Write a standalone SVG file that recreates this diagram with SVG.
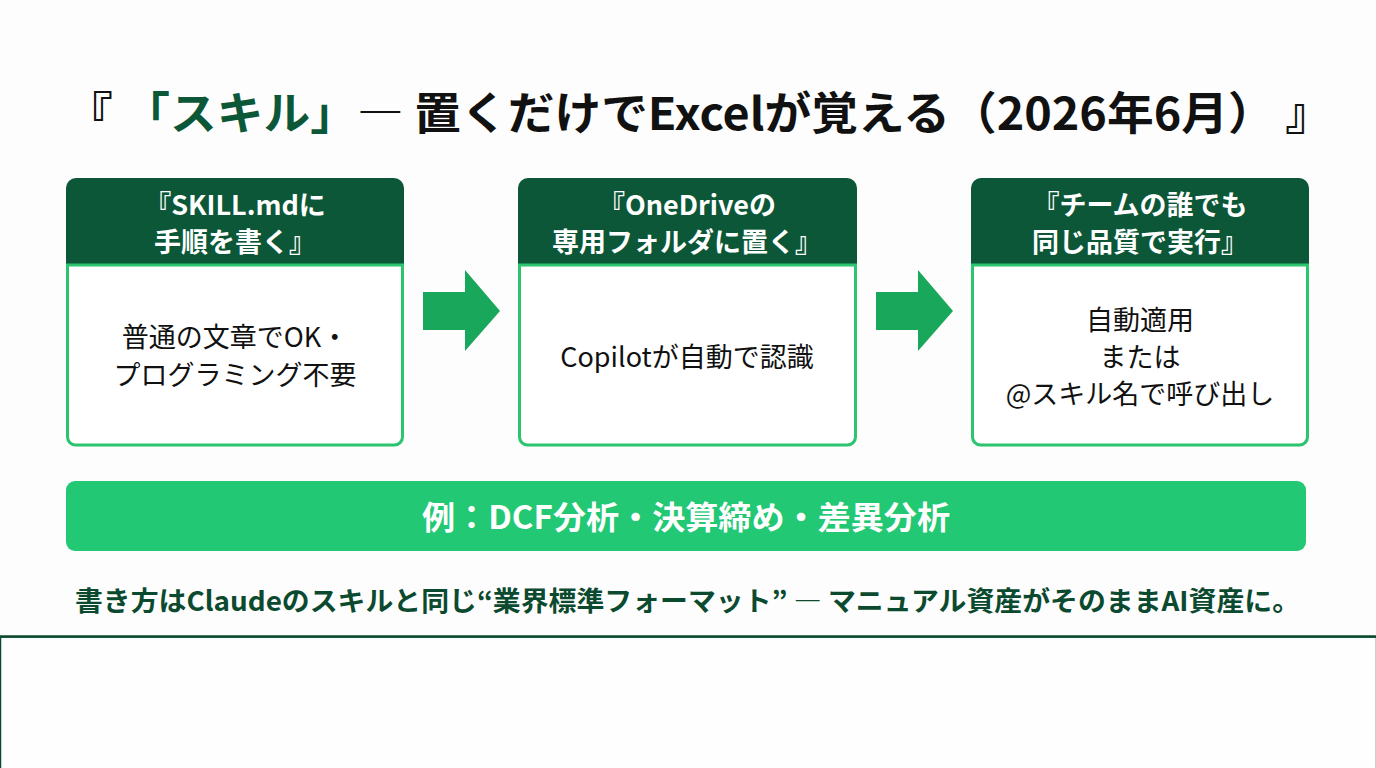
<svg xmlns="http://www.w3.org/2000/svg" width="1376" height="768" viewBox="0 0 1376 768">
<style>
.jp{font-family:"Noto Sans CJK JP","Noto Sans",sans-serif}
.title{font-size:45px;font-weight:700;fill:#111}
.hdr{fill:#0c5738}
.hdrtxt{font-size:27px;font-weight:700;fill:#fff;text-anchor:middle}
.body{fill:#fff;stroke:#2bc46f;stroke-width:3}
.bodytxt{font-size:27px;font-weight:400;fill:#111;text-anchor:middle}
.arrow{fill:#19a85b}
</style>
<rect width="1376" height="768" fill="#fdfdfd"/>
<text class="jp title" x="66" y="130" textLength="1266" lengthAdjust="spacingAndGlyphs">『 <tspan fill="#0c5738">「スキル」</tspan>― 置くだけでExcelが覚える（2026年6月） 』</text>

<g id="node1">
<path class="hdr" d="M66,188 a10,10 0 0 1 10,-10 h318 a10,10 0 0 1 10,10 v78 h-338 z"/>
<path class="body" d="M67.5,265 h335 v172 a8,8 0 0 1 -8,8 h-319 a8,8 0 0 1 -8,-8 z"/>
<text class="jp hdrtxt" x="235" y="215">『SKILL.mdに</text>
<text class="jp hdrtxt" x="235" y="252">手順を書く』</text>
<text class="jp bodytxt" x="235" y="347">普通の文章でOK・</text>
<text class="jp bodytxt" x="235" y="385">プログラミング不要</text>
</g>

<g id="node2">
<path class="hdr" d="M518,188 a10,10 0 0 1 10,-10 h319 a10,10 0 0 1 10,10 v78 h-339 z"/>
<path class="body" d="M519.5,265 h336 v172 a8,8 0 0 1 -8,8 h-320 a8,8 0 0 1 -8,-8 z"/>
<text class="jp hdrtxt" x="687" y="215">『OneDriveの</text>
<text class="jp hdrtxt" x="687" y="252">専用フォルダに置く』</text>
<text class="jp bodytxt" x="687" y="367">Copilotが自動で認識</text>
</g>

<g id="node3">
<path class="hdr" d="M971,188 a10,10 0 0 1 10,-10 h318 a10,10 0 0 1 10,10 v78 h-338 z"/>
<path class="body" d="M972.5,265 h335 v172 a8,8 0 0 1 -8,8 h-319 a8,8 0 0 1 -8,-8 z"/>
<text class="jp hdrtxt" x="1140" y="215">『チームの誰でも</text>
<text class="jp hdrtxt" x="1140" y="252">同じ品質で実行』</text>
<text class="jp bodytxt" x="1140" y="330">自動適用</text>
<text class="jp bodytxt" x="1140" y="367">または</text>
<text class="jp bodytxt" x="1140" y="404">@スキル名で呼び出し</text>
</g>

<g id="connectors">
<path class="arrow" d="M423,292 h42 v-22 l35,41 l-35,40 v-21 h-42 z"/>
<path class="arrow" d="M876,292 h42 v-22 l35,41 l-35,40 v-21 h-42 z"/>
</g>

<g id="examples">
<rect x="66" y="481" width="1240" height="70" rx="9" fill="#22c873"/>
<text class="jp" x="422" y="529" font-size="32" font-weight="700" fill="#fff" textLength="528" lengthAdjust="spacingAndGlyphs">例：DCF分析・決算締め・差異分析</text>
</g>

<text class="jp" x="75" y="611" font-size="27" font-weight="700" fill="#0c4a30" textLength="1225" lengthAdjust="spacingAndGlyphs">書き方はClaudeのスキルと同じ“業界標準フォーマット” ― マニュアル資産がそのままAI資産に。</text>

<rect x="0.5" y="637" width="1376" height="140" fill="#fefefe" stroke="#0c4a30" stroke-width="1.5"/>
<line x1="0" y1="636.5" x2="1376" y2="636.5" stroke="#0c4a30" stroke-width="2.5"/>
</svg>
